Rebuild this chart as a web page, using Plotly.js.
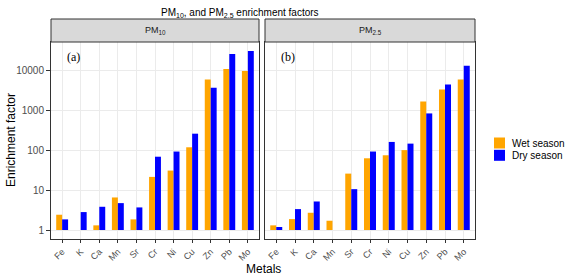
<!DOCTYPE html>
<html>
<head>
<meta charset="utf-8">
<script src="https://cdn.plot.ly/plotly-3.0.1.min.js"></script>
<style>html,body{margin:0;padding:0;background:#fff;}#chart{width:567px;height:276px;}</style>
</head>
<body>
<div id="chart"></div>
<script>
const metals = ['Fe','K','Ca','Mn','Sr','Cr','Ni','Cu','Zn','Pb','Mo'];
const seriesNames = ['Wet season','Dry season'];
const seriesColors = ['#FFA500','#0000FF'];
const pm10Wet = [2.42, null, 1.31, 6.56, 1.85, 21.5, 31, 119, 5960, 11000, 9800];
const pm10Dry = [1.85, 2.82, 3.83, 4.73, 3.69, 69, 93, 261, 3690, 26100, 31000];
const pm25Wet = [1.31, 1.88, 2.71, 1.71, 26, 63, 75, 101, 1680, 3350, 5960];
const pm25Dry = [1.19, 3.35, 5.2, null, 10.6, 93, 162, 147, 841, 4470, 13100];
const panelLabels = ['PM<sub>10</sub>','PM<sub>2.5</sub>'];
const panelTags = ['(a)','(b)'];
const yTicks = [1,10,100,1000,10000];

const W = 567, H = 276;
const px = v => v / W;
const py = v => 1 - v / H;

function barTrace(vals, k, xa, ya) {
  return {
    type: 'bar', x: metals,
    y: vals.map(v => v == null ? null : v - 1),
    base: vals.map(() => 1),
    customdata: vals,
    name: seriesNames[k], marker: {color: seriesColors[k], line: {width: 0}},
    xaxis: xa, yaxis: ya, showlegend: false,
    hovertemplate: '%{x}: %{customdata}<extra>' + seriesNames[k] + '</extra>'
  };
}

const data = [
  barTrace(pm10Wet, 0, 'x', 'y'),
  barTrace(pm10Dry, 1, 'x', 'y'),
  barTrace(pm25Wet, 0, 'x2', 'y2'),
  barTrace(pm25Dry, 1, 'x2', 'y2')
];

const panels = [[51, 259], [265, 475]];
const plotTop = 42, plotBot = 239, stripTop = 19;
const yDom = [py(plotBot), py(plotTop)];
const yr = [-0.225, 4.716];

const xBase = {
  type: 'category', range: [-0.6, 10.6], showgrid: true, gridcolor: '#ebebeb', gridwidth: 1,
  showline: true, linecolor: '#333333', linewidth: 1, mirror: true,
  ticks: 'outside', ticklen: 3, tickcolor: '#333333', tickangle: -45,
  tickfont: {family: 'Liberation Sans, Arial, sans-serif', size: 9, color: '#4d4d4d'},
  zeroline: false, fixedrange: true
};
const yBase = {
  type: 'log', range: yr, domain: yDom, tickvals: yTicks, ticktext: yTicks.map(String),
  showgrid: true, gridcolor: '#ebebeb', gridwidth: 1,
  showline: true, linecolor: '#333333', linewidth: 1, mirror: true,
  ticks: 'outside', ticklen: 4, tickcolor: '#333333',
  tickfont: {family: 'Liberation Sans, Arial, sans-serif', size: 10, color: '#4d4d4d'},
  zeroline: false, fixedrange: true
};

const shapes = [];
const annotations = [];
panels.forEach((p, i) => {
  shapes.push({type: 'rect', xref: 'paper', yref: 'paper', x0: px(p[0]), x1: px(p[1]),
    y0: py(plotTop), y1: py(stripTop), fillcolor: '#d9d9d9', line: {color: '#333333', width: 1}, layer: 'above'});
  annotations.push({xref: 'paper', yref: 'paper', x: px((p[0] + p[1]) / 2), y: py((plotTop + stripTop) / 2),
    text: panelLabels[i], showarrow: false, xanchor: 'center', yanchor: 'middle',
    font: {family: 'Liberation Sans, Arial, sans-serif', size: 9, color: '#1a1a1a'}});
  annotations.push({xref: 'paper', yref: 'paper', x: px(p[0] + 14), y: py(57), text: panelTags[i],
    showarrow: false, xanchor: 'left', yanchor: 'middle',
    font: {family: 'Liberation Serif, Times New Roman, serif', size: 12, color: '#000'}});
});

// title and axis titles
annotations.push({xref: 'paper', yref: 'paper', x: px(240), y: py(13), text: 'PM<sub>10</sub>, and PM<sub>2.5</sub> enrichment factors',
  showarrow: false, xanchor: 'center', yanchor: 'middle', font: {family: 'Liberation Sans, Arial, sans-serif', size: 10, color: '#000'}});
annotations.push({xref: 'paper', yref: 'paper', x: px(263), y: py(269), text: 'Metals',
  showarrow: false, xanchor: 'center', yanchor: 'middle', font: {family: 'Liberation Sans, Arial, sans-serif', size: 12, color: '#000'}});
annotations.push({xref: 'paper', yref: 'paper', x: px(11), y: py(140), text: 'Enrichment factor', textangle: -90,
  showarrow: false, xanchor: 'center', yanchor: 'middle', font: {family: 'Liberation Sans, Arial, sans-serif', size: 12, color: '#000'}});

// legend (manual)
seriesNames.forEach((n, k) => {
  const cy = 143 + k * 12.3;
  shapes.push({type: 'rect', xref: 'paper', yref: 'paper', x0: px(494), x1: px(505), y0: py(cy + 5.5), y1: py(cy - 5.5),
    fillcolor: seriesColors[k], line: {width: 0}});
  annotations.push({xref: 'paper', yref: 'paper', x: px(510), y: py(cy), text: n, showarrow: false,
    xanchor: 'left', yanchor: 'middle', font: {family: 'Liberation Sans, Arial, sans-serif', size: 10, color: '#000'}});
});

const layout = {
  width: W, height: H, margin: {l: 0, r: 0, t: 0, b: 0},
  paper_bgcolor: '#fff', plot_bgcolor: '#fff',
  barmode: 'group', bargap: 0.36, bargroupgap: 0,
  showlegend: false,
  xaxis: Object.assign({}, xBase, {domain: [px(51), px(259)], anchor: 'y'}),
  xaxis2: Object.assign({}, xBase, {domain: [px(265), px(475)], anchor: 'y2'}),
  yaxis: Object.assign({}, yBase, {anchor: 'x'}),
  yaxis2: Object.assign({}, yBase, {anchor: 'x2', showticklabels: false, ticks: ''}),
  shapes: shapes, annotations: annotations
};

Plotly.newPlot('chart', data, layout, {displayModeBar: false, staticPlot: true});
</script>
</body>
</html>
